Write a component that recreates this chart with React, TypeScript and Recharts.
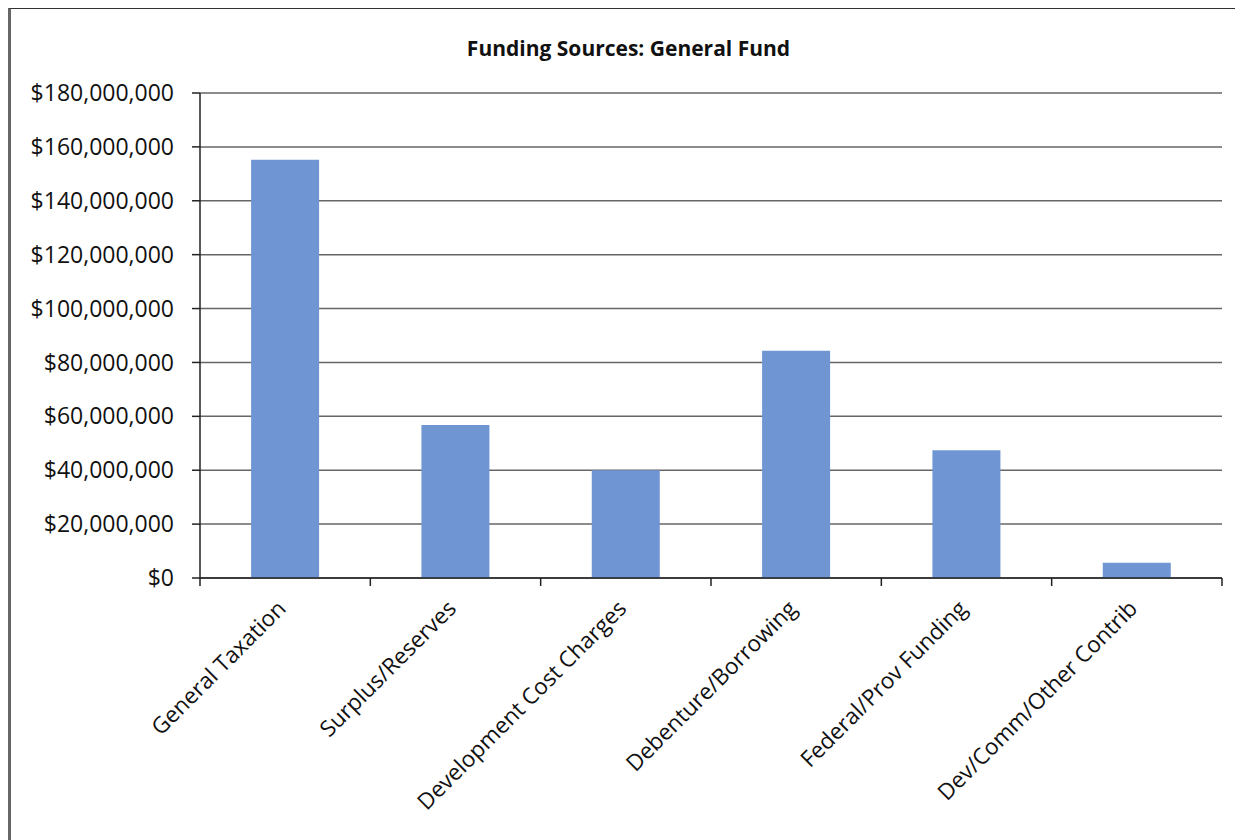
import React from "react";
import { BarChart, Bar, XAxis, YAxis, CartesianGrid } from "recharts";

const categories = [
  "General Taxation",
  "Surplus/Reserves",
  "Development Cost Charges",
  "Debenture/Borrowing",
  "Federal/Prov Funding",
  "Dev/Comm/Other Contrib",
];
const amounts = [155200000, 56800000, 40000000, 84300000, 47400000, 5700000];
const yTicks = [0, 20000000, 40000000, 60000000, 80000000, 100000000, 120000000, 140000000, 160000000, 180000000];
const title = "Funding Sources: General Fund";

const data = categories.map((name, i) => ({ name, value: amounts[i] }));

const FONT = "'Open Sans', sans-serif";

const fmt = (v: number) => "$" + v.toLocaleString("en-US");

const XTick = (props: any) => {
  const { x, y, payload, index } = props;
  const off = payload && payload.offset ? payload.offset : 85;
  const last = index === categories.length - 1;
  return (
    <g>
      <line x1={x - off} y1={y} x2={x - off} y2={y + 8} stroke="#222" strokeWidth={1.5} />
      {last && <line x1={x + off} y1={y} x2={x + off} y2={y + 8} stroke="#222" strokeWidth={1.5} />}
      <text
        x={x + 2}
        y={y + 32}
        textAnchor="end"
        transform={`rotate(-45, ${x + 2}, ${y + 32})`}
        fontFamily={FONT}
        fontSize={22.5}
        fill="#111"
      >
        {payload.value}
      </text>
    </g>
  );
};

export default function App() {
  return (
    <div
      style={{
        position: "relative",
        width: 1235,
        height: 832,
        background: "#fff",
        boxSizing: "border-box",
        borderLeft: "3px solid #666",
        borderTop: "1px solid #333",
      }}
    >
      <div
        style={{
          position: "absolute",
          left: 0,
          width: 1235,
          top: 25,
          textAlign: "center",
          fontFamily: FONT,
          fontWeight: 700,
          fontSize: 21,
          color: "#111",
        }}
      >
        {title}
      </div>
      <BarChart
        width={1232}
        height={831}
        data={data}
        margin={{ top: 84, right: 21, bottom: 0, left: 0 }}
        barCategoryGap="30%"
      >
        <CartesianGrid vertical={false} stroke="#666" strokeWidth={1.5} />
        <XAxis
          dataKey="name"
          interval={0}
          tickSize={0}
          tickMargin={0}
          tick={<XTick />}
          axisLine={{ stroke: "#222", strokeWidth: 1.5 }}
          height={262}
        />
        <YAxis
          width={189}
          domain={[0, 180000000]}
          ticks={yTicks}
          tickFormatter={fmt}
          tickSize={8}
          tickMargin={18}
          tick={{ fontFamily: FONT, fontSize: 23, fill: "#111" }}
          tickLine={{ stroke: "#222", strokeWidth: 1.5 }}
          axisLine={{ stroke: "#222", strokeWidth: 1.5 }}
        />
        <Bar dataKey="value" fill="#6f96d3" isAnimationActive={false} />
      </BarChart>
    </div>
  );
}
